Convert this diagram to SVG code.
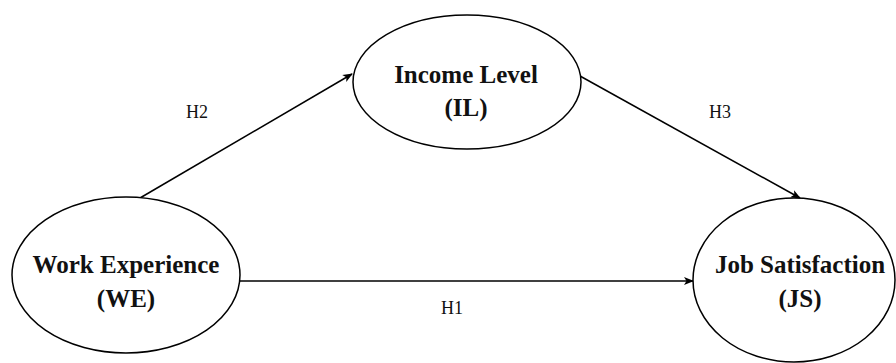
<svg xmlns="http://www.w3.org/2000/svg" width="896" height="363" viewBox="0 0 896 363">
<style>
.node ellipse{fill:#fff;stroke:#000;stroke-width:1.5}
.node text{font-family:"Liberation Serif","Times New Roman",serif;font-weight:bold;font-size:25px;fill:#111;text-anchor:middle}
.edge{stroke:#000;stroke-width:1.5;fill:none;marker-end:url(#arr)}
.lbl{font-family:"Liberation Serif","Times New Roman",serif;font-size:18px;fill:#111;text-anchor:middle}
</style>
<defs>
<marker id="arr" viewBox="0 0 10 10" refX="9" refY="5" markerWidth="10" markerHeight="10" markerUnits="userSpaceOnUse" orient="auto">
<path d="M0,1 L10,5 L0,9 L2.5,5 Z" fill="#000"/>
</marker>
</defs>
<rect width="896" height="363" fill="#fff"/>
<g id="connectors">
<line class="edge" x1="140" y1="198" x2="352" y2="74"/>
<line class="edge" x1="580" y1="76" x2="800" y2="198"/>
<line class="edge" x1="239" y1="281" x2="693" y2="281"/>
<text class="lbl" x="197" y="118">H2</text>
<text class="lbl" x="720" y="118">H3</text>
<text class="lbl" x="452" y="314">H1</text>
</g>
<g id="IL" class="node">
<ellipse cx="467" cy="82" rx="114" ry="67"/>
<text x="466" y="83">Income Level</text>
<text x="466" y="116">(IL)</text>
</g>
<g id="WE" class="node">
<ellipse cx="126" cy="275" rx="114" ry="78"/>
<text x="126" y="273">Work Experience</text>
<text x="126" y="307">(WE)</text>
</g>
<g id="JS" class="node">
<ellipse cx="794" cy="280" rx="101" ry="82"/>
<text x="800" y="273">Job Satisfaction</text>
<text x="800" y="307">(JS)</text>
</g>
</svg>
